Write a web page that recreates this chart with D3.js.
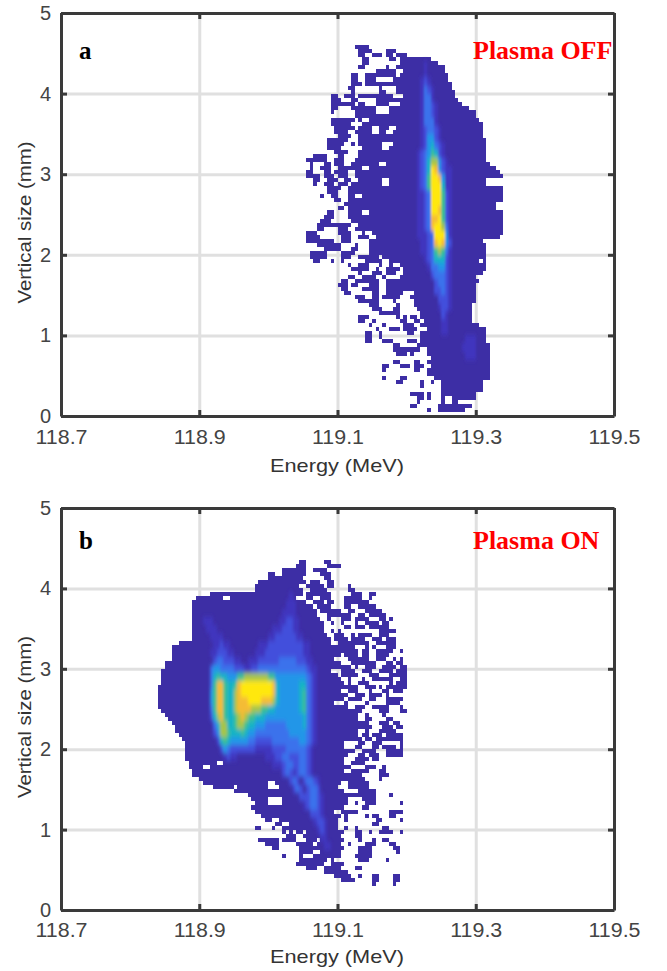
<!DOCTYPE html>
<html>
<head>
<meta charset="utf-8">
<script src="https://cdn.jsdelivr.net/npm/d3@7"></script>
<style>
  html, body { margin: 0; padding: 0; background: white; }
</style>
</head>
<body>
<div id="container"></div>
<script>
// tick labels
const energyTicks = [118.7, 118.9, 119.1, 119.3, 119.5];
const sizeTicks = [0, 1, 2, 3, 4, 5];

// colour levels used by the core strings below, digit = index in here
const levels = ["#3C2FA5", "#4136BE", "#4350DC", "#3A72EC", "#2496E8", "#12B4C4", "#3CC090", "#A5C548", "#F4BC34", "#FFE80C"];

// bins are 0.005 MeV wide and 0.05 mm tall
const energyBin = 0.005;
const sizeBin = 0.05;

// occupied bins of panel a, one list per row from the top,
// pairs of first and last energy bin
const startEnergyA = 119.03;
const startSizeA = 4.6;
const rowsA = [
  [19,22],[20,23,28,30],[20,21,24,26,28,29,31,33],[21,22,29,30,32,40],[21,22,32,42],
  [20,21,28,28,31,44],[25,30,33,44],[18,19,22,30,32,45],[18,19,22,24,30,45],[18,20,22,46],
  [17,18,26,26,31,46],[18,18,26,27,31,47],[12,13,16,18,20,29,33,47],[12,14,18,19,25,48],[12,18,20,21,25,28,32,49],
  [12,13,18,24,29,51],[12,12,19,24,29,53],[19,53],[12,18,20,20,23,54],[12,17,21,55],
  [13,18,20,23,26,28,31,55],[13,16,19,23,26,27,30,55],[14,17,20,55],[11,16,20,56],[11,15,18,18,20,26,30,56],
  [11,14,21,26,29,56],[13,16,20,56],[7,10,14,15,20,56],[5,6,7,10,13,15,19,56],[6,6,10,11,13,15,18,25,28,57],
  [6,6,9,11,14,16,17,20,23,59],[5,6,10,11,13,16,19,60],[5,6,7,8,10,12,14,16,19,61],[7,8,11,13,16,17,20,26,29,56],[7,7,10,12,14,16,18,26,29,56],
  [11,14,17,61],[11,13,17,61],[9,9,12,13,17,18,21,61],[13,14,17,61],[16,59],
  [14,15,17,59],[11,12,17,20,23,61],[10,12,17,61],[9,11,18,61],[8,17,20,61],
  [8,9,14,16,19,61],[5,7,14,17,21,21,24,61],[5,8,15,17,20,22,25,60],[5,12,15,17,23,55],[8,14,19,19,23,56],
  [10,14,18,19,23,56],[6,10,15,18,23,56],[6,10,15,17,20,25,27,56],[7,8,12,12,15,15,22,26,29,54,56,56],[17,17,20,22,26,26,29,29,32,56],
  [18,22,25,25,28,31,33,56],[20,20,24,26,28,30,33,55],[17,18,21,24,27,27,32,53],[15,16,19,25,28,54],[14,16,18,19,23,25,28,53],
  [15,16,21,25,28,53],[16,17,24,25,28,32,36,53],[19,21,24,25,27,31,35,53],[20,25,30,30,36,53],[23,25,31,31,36,52],
  [24,26,30,31,37,52],[26,31,38,52],[20,22,31,31,33,33,35,36,38,52],[20,21,24,24,32,33,36,37,39,52],[23,23,27,27,33,35,38,54],
  [25,25,29,31,33,36,40,56],[22,23,26,26,34,35,38,56],[22,23,26,26,38,56],[22,23,27,29,34,36,38,56],[30,31,37,57],
  [30,37,40,57],[31,33,35,35,40,57],[41,57],[30,31,36,37,40,57],[27,28,32,34,36,38,41,57],
  [27,27,36,37,40,57],[40,57],[27,27,32,33,42,57],[31,32,38,38,41,41,44,55],[38,38,44,55],
  [44,55],[35,38,40,40,44,53],[37,38,40,40,44,44,47,53],[37,37,44,44,47,48],[35,36,43,52],
  [40,40,43,50]
];

// brighter core of panel a, one list per two rows: first bin, digit string
const coreRowA = 4;
const coreA = [
  [39,"1"],[39,"1"],[38,"121"],[38,"1321"],[38,"1331"],
  [38,"13321"],[38,"13321"],[38,"13331"],[38,"123321"],[38,"124421"],
  [38,"1245321"],[37,"12346521"],[37,"123577421"],[37,"1235984211"],[37,"1236998411"],
  [37,"1236999511"],[37,"1123999621"],[37,"1123999621"],[37,"1123998621"],[37,"1123889621"],
  [37,"1123899731"],[37,"1112399941"],[38,"112389842"],[38,"112367631"],[39,"12355521"],
  [40,"1334421"],[41,"233321"],[42,"23321"],[42,"22321"],[43,"2221"],
  [43,"1221"],[44,"21"],[44,"11"],[44,"11"],[51,"111"],
  [50,"1111"],[51,"111"]
];

// same for panel b
const startEnergyB = 118.84;
const startSizeB = 4.35;
const rowsB = [
  [41,42,48,49],[40,42,49,52],[36,42,45,47,48,48],[32,33,36,42,47,49],[32,41,48,49],
  [29,42,44,46,49,50],[28,40,43,47,49,50,55,55],[28,41,44,48,55,56],[15,41,43,49,56,58,61,62],[11,18,21,39,43,44,47,49,54,58,61,61],
  [10,42,45,47,49,50,54,60],[10,44,46,49,54,55,58,62],[10,45,47,52,55,56,60,64],[10,45,49,55,58,59,61,65],[10,46,49,49,53,55,57,60,64,65,67,67],
  [10,47,50,50,53,53,57,57,60,63,65,66],[10,47,54,55,57,59,61,66],[10,47,50,50,52,52,64,68],[10,48,51,53,56,56,58,61,64,66],[10,49,51,54,56,59,62,64,66,68],
  [6,49,52,60,63,68],[4,56,60,60,62,62,66,68],[4,57,59,60,63,67,70,70],[4,52,54,57,59,60,63,66],[4,50,55,60,63,65,68,68,70,70],
  [2,52,56,62,66,67,69,70],[2,55,57,57,60,62,65,68,70,71],[1,49,53,56,59,61,64,67,69,71],[1,51,53,57,61,63,67,71],[1,52,55,55,59,59,62,67,70,71],
  [1,53,55,55,58,60,67,67,69,71],[0,57,60,62,64,64,66,71],[0,52,55,57,61,61,65,66,68,70],[0,54,57,59,61,64,66,66],[0,53,55,58,61,62,66,70],
  [0,50,54,54,60,60,66,69],[0,54,57,59,62,66,70,70],[1,58,64,66,70,71],[2,57,60,60,65,65],[3,57,60,61,66,67],
  [4,60,64,66,68,69],[5,61,65,67,69,70],[5,57,60,60,64,68],[6,57,59,60,62,64,66,70],[7,58,60,61,63,70],
  [8,53,58,59,62,64,70,70],[8,53,57,58,62,63,65,68,70,70],[8,56,59,62,66,70],[8,54,58,59,61,63,66,70],[8,53,57,60,62,63],
  [9,16,19,53,56,59],[9,12,15,55,60,62,65,65],[10,53,56,60,64,65],[10,58,64,66],[12,59,64,64],
  [13,31,34,52,55,60],[16,21,23,31,35,51,55,60],[22,53,58,62],[26,62,67,67],[27,31,36,54,59,62],
  [28,31,36,54,57,57,60,62,70,70],[27,53,59,60],[28,50,53,57,67,70],[30,52,54,54,60,60,62,63,67,68],[31,32,35,51,54,54,63,64,70,70],
  [34,35,38,51,62,63],[28,29,33,33,36,51,54,54,57,57,65,66],[36,36,38,38,40,41,43,53,57,58,61,61,64,67,70,70],[37,39,42,52,57,58],[29,34,36,39,43,45,47,53,58,58,62,62,65,66],
  [31,34,40,44,46,52,55,55,60,62,67,68],[33,34,41,53,58,61,68,69],[41,44,47,52,58,61,69,69],[36,36,41,41,45,52,57,61],[41,48,50,50,58,60,66,66],
  [40,47,50,53],[43,45,48,52,57,58],[48,54],[51,55,58,58,62,63,68,69],[53,56,62,63,68,69],
  [62,62,68,68]
];

const coreRowB = 8;
const coreB = [
  [38,"1"],
  [37,"111"],
  [36,"1111"],
  [13,"111",35,"112211"],
  [14,"111",33,"11122211"],
  [15,"1111",32,"1122222211"],
  [16,"11211",29,"111222222222211"],
  [15,"1122211",28,"1112222222222211"],
  [16,"23322211",26,"1112222223333322211"],
  [15,"344333322211",27,"2233333333333333211"],
  [15,"35655444667777777664","44444444321"],
  [15,"36886556899999999985","44444455321"],
  [15,"46886557899999999985","44444456321"],
  [15,"46886557888999988875","44444456321"],
  [15,"36886557888877766554","44444456321"],
  [15,"25786556787665554444","44444445321"],
  [16,"357755677","6554443333","33444445321"],
  [16,"247765556","5443333333","33344444321"],
  [17,"25654444","4332222233","33333344321"],
  [18,"2432222","2221111122","22333333210"],
  [19,"1211",31,"1112","23322233210"],
  [33,"11","12332233210"],
  [36,"2321233210"],
  [38,"232023321"],
  [39,"23202332"],
  [41,"2223321"],
  [42,"123321"],
  [44,"2221"],
  [45,"1221"],
  [46,"121"],
  [47,"11"],
  [48,"11"]
];

const svg = d3.select("#container")
  .append("svg")
  .attr("width", 667)
  .attr("height", 971);

// the reference is a soft scan, so the cells get a little blur
const defs = svg.append("defs");
defs.append("filter").attr("id", "soft").append("feGaussianBlur").attr("stdDeviation", 0.45);
defs.append("filter").attr("id", "softA")
  .append("feGaussianBlur").attr("stdDeviation", "1.2 2.6");
defs.append("filter").attr("id", "softB")
  .append("feGaussianBlur").attr("stdDeviation", "1.7 2.4");

const colorScale = d3.scaleOrdinal().domain(d3.range(levels.length)).range(levels);

function panel(p) {
  const x = d3.scaleLinear().domain([118.7, 119.5]).range([61, 614]);
  const y = d3.scaleLinear().domain([0, 5]).range([p.bottom, p.top]);
  const g = svg.append("g");

  // grid goes under the cells
  g.append("g")
    .attr("transform", `translate(0,${p.bottom})`)
    .call(d3.axisBottom(x).tickValues(energyTicks).tickSize(p.top - p.bottom).tickFormat(""))
    .call(s => s.select(".domain").remove())
    .selectAll("line").attr("stroke", "#E0E0E0").attr("stroke-width", 3);
  g.append("g")
    .attr("transform", "translate(61,0)")
    .call(d3.axisLeft(y).tickValues(sizeTicks).tickSize(61 - 614).tickFormat(""))
    .call(s => s.select(".domain").remove())
    .selectAll("line").attr("stroke", "#E0E0E0").attr("stroke-width", 3);

  // base cells
  const cells = [];
  p.rows.forEach((row, r) => {
    for (let k = 0; k < row.length; k += 2) cells.push({ r: r, a: row[k], b: row[k + 1] });
  });
  g.append("g")
    .attr("filter", "url(#soft)")
    .selectAll("rect")
    .data(cells)
    .join("rect")
    .attr("x", d => x(p.startEnergy + d.a * energyBin))
    .attr("width", d => x(p.startEnergy + (d.b + 1) * energyBin) - x(p.startEnergy + d.a * energyBin))
    .attr("y", d => y(p.startSize - d.r * sizeBin))
    .attr("height", y(0) - y(sizeBin))
    .attr("fill", levels[0])
    .attr("shape-rendering", "crispEdges");

  // brighter core, two rows tall per entry. a number sets the bin, a string runs on from there
  const core = [];
  p.core.forEach((line, i) => {
    let c = 0;
    line.forEach(part => {
      if (typeof part === "number") { c = part; return; }
      part.split("").forEach(v => {
        if (v !== "0") core.push({ r: p.coreRow + i * 2, c: c, v: +v });
        c++;
      });
    });
  });
  g.append("g")
    .attr("filter", `url(#${p.blur})`)
    .selectAll("rect")
    .data(core)
    .join("rect")
    .attr("x", d => x(p.startEnergy + d.c * energyBin))
    .attr("width", x(118.7 + energyBin) - x(118.7))
    .attr("y", d => y(p.startSize - d.r * sizeBin))
    .attr("height", 2 * (y(0) - y(sizeBin)))
    .attr("fill", d => colorScale(d.v))
    .attr("shape-rendering", "crispEdges");

  // box and ticks
  const styleAxis = s => {
    s.selectAll(".domain").attr("stroke", "#3A3A3A").attr("stroke-width", 3);
    s.selectAll("line").attr("stroke", "#3A3A3A").attr("stroke-width", 3);
    s.selectAll("text")
      .attr("fill", "#444")
      .style("font-family", "'Liberation Sans', Arial, sans-serif")
      .style("font-size", "20px");
  };
  g.append("g").attr("transform", `translate(0,${p.top})`)
    .call(d3.axisTop(x).tickValues(energyTicks).tickSizeInner(-6).tickSizeOuter(0).tickFormat(""))
    .call(styleAxis);
  g.append("g").attr("transform", "translate(614,0)")
    .call(d3.axisRight(y).tickValues(sizeTicks).tickSizeInner(-6).tickSizeOuter(0).tickFormat(""))
    .call(styleAxis);
  g.append("g").attr("transform", `translate(0,${p.bottom})`)
    .call(d3.axisBottom(x).tickValues(energyTicks).tickSizeInner(-6).tickSizeOuter(0).tickPadding(p.tickPad).tickFormat(d3.format(".1f")))
    .call(styleAxis)
    .selectAll("text").attr("textLength", 52).attr("lengthAdjust", "spacingAndGlyphs");
  g.append("g").attr("transform", "translate(61,0)")
    .call(d3.axisLeft(y).tickValues(sizeTicks).tickSizeInner(-6).tickSizeOuter(0).tickPadding(10).tickFormat(d3.format("d")))
    .call(styleAxis);

  // axis titles
  g.append("text")
    .attr("x", 337).attr("y", p.bottom + p.titlePad)
    .attr("text-anchor", "middle")
    .attr("textLength", 134).attr("lengthAdjust", "spacingAndGlyphs")
    .attr("fill", "#333")
    .style("font-family", "'Liberation Sans', Arial, sans-serif")
    .style("font-size", "19px")
    .text("Energy (MeV)");
  g.append("text")
    .attr("transform", `translate(31,${(p.top + p.bottom) / 2 + 8}) rotate(-90)`)
    .attr("text-anchor", "middle")
    .attr("textLength", 162).attr("lengthAdjust", "spacingAndGlyphs")
    .attr("fill", "#333")
    .style("font-family", "'Liberation Sans', Arial, sans-serif")
    .style("font-size", "19px")
    .text("Vertical size (mm)");

  // panel letter and note
  g.append("text")
    .attr("x", 79).attr("y", p.noteY)
    .attr("fill", "black")
    .style("font-family", "'Liberation Serif', serif")
    .style("font-weight", "bold")
    .style("font-size", "25px")
    .text(p.letter);
  g.append("text")
    .attr("x", 473).attr("y", p.noteY)
    .attr("fill", "#FF0000")
    .style("font-family", "'Liberation Serif', serif")
    .style("font-weight", "bold")
    .style("font-size", "26px")
    .text(p.note);
}

panel({ top: 13, bottom: 416, letter: "a", note: "Plasma OFF", noteY: 59, tickPad: 14, titlePad: 56, blur: "softA",
  rows: rowsA, startEnergy: startEnergyA, startSize: startSizeA,
  core: coreA, coreRow: coreRowA });
panel({ top: 508, bottom: 910, letter: "b", note: "Plasma ON", noteY: 549, tickPad: 13, titlePad: 53, blur: "softB",
  rows: rowsB, startEnergy: startEnergyB, startSize: startSizeB,
  core: coreB, coreRow: coreRowB });
</script>
</body>
</html>
